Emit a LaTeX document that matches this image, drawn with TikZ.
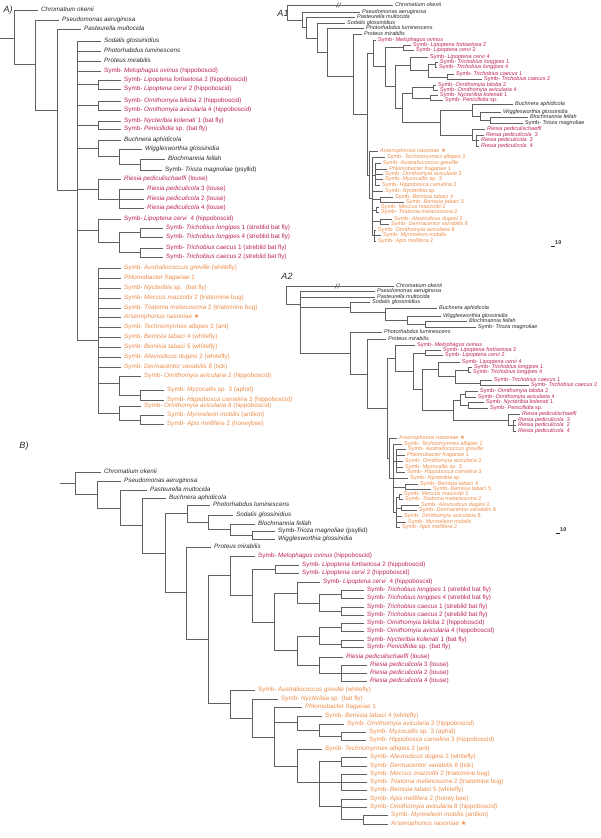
\documentclass[tikz,border=0pt]{standalone}
\usepackage{fontspec}
\setmainfont{Liberation Sans}
\newfontfamily\starfont{DejaVu Sans}
\definecolor{Rd}{RGB}{188,34,86}
\definecolor{Or}{RGB}{236,140,74}
\definecolor{Bk}{RGB}{40,40,40}
\definecolor{Ln}{RGB}{96,96,96}
\def\Sy{Symb-\ }
\def\Astar{ {\starfont ★}}

\begin{document}
\begin{tikzpicture}[x=1pt,y=-1pt,
    br/.style={Ln,line width=0.9pt},
    bs/.style={Ln,line width=0.6pt},
    lf/.style={anchor=west,inner xsep=3pt,inner ysep=0pt,text height=4.6pt,text depth=1.3pt,font=\fontsize{6.3}{7}\selectfont},
    sm/.style={anchor=west,inner xsep=2pt,inner ysep=0pt,text height=3.9pt,text depth=1.1pt,font=\fontsize{5.5}{6}\selectfont},
    ttl/.style={font=\fontsize{9}{10}\selectfont\itshape,text=Bk,inner sep=0pt}]
    \path[use as bounding box] (0,0) rectangle (600,838);
    \node[ttl] (tA) at (8,10) {A)};
    \node[ttl] (tB) at (24,446) {B)};
    \node[ttl] (tA1) at (283,13) {A1};
    \node[ttl] (tA2) at (287,276) {A2};

    % A
    \foreach \n/\x/\y/\t in {a1/38/10/{\textit{Chromatium okenii}},a2/59/20/{\textit{Pseudomonas aeruginosa}},a3/81/29/{\textit{Pasteurella multocida}},
        a4/101/41/{\textit{Sodalis glossinidius}},a5/101/51/{\textit{Photorhabdus luminescens}},a6/101/61/{\textit{Proteus mirabilis}},
        a18/121/140/{\textit{Buchnera aphidicola}},a19/142/149/{\textit{Wigglesworthia glossinidia}},a20/165/159/{\textit{Blochmannia fellah}},
        a21/162/170/{\Sy\textit{Trioza magnoliae} (psyllid)}}
        \node[lf,text=Bk] (\n) at (\x,\y) {\t};
    \foreach \n/\x/\y/\t in {a7/101/71/{\Sy\textit{Melophagus ovinus} (hippoboscid)},a8/121/80/{\Sy\textit{Lipoptena fortisetosa} 2 (hippoboscid)},
        a9/121/89/{\Sy\textit{Lipoptena cervi} 2 (hippoboscid)},a10/121/101/{\Sy\textit{Ornithomyia biloba} 2 (hippoboscid)},
        a11/121/110/{\Sy\textit{Ornithomyia avicularia} 4 (hippoboscid)},a12/121/121/{\Sy\textit{Nycteribia kolenati} 1 (bat fly)},
        a13/121/129/{\Sy\textit{Penicillidia} sp. (bat fly)},a22/121/179/{\textit{Riesia pediculischaeffi} (louse)},
        a23/144/189/{\textit{Riesia pediculicola} 3 (louse)},a24/144/199/{\textit{Riesia pediculicola} 2 (louse)},
        a25/144/208/{\textit{Riesia pediculicola} 4 (louse)},a26/121/219/{\Sy\textit{Lipoptena cervi}\ \ 4 (hippoboscid)},
        a27/163/228/{\Sy\textit{Trichobius longipes} 1 (streblid bat fly)},a28/163/237/{\Sy\textit{Trichobius longipes} 4 (streblid bat fly)},
        a29/163/248/{\Sy\textit{Trichobius caecus} 1 (streblid bat fly)},a30/163/257/{\Sy\textit{Trichobius caecus} 2 (streblid bat fly)}}
        \node[lf,text=Rd] (\n) at (\x,\y) {\t};
    \foreach \n/\x/\y/\t in {a31/121/268/{\Sy\textit{Australiococcus greville} (whitefly)},a32/121/278/{\textit{Phlomobacter fragariae} 1},
        a33/121/288/{\Sy\textit{Nycteribia} sp.\ \ (bat fly)},a34/121/298/{\Sy\textit{Meccus mazzottii} 2 (triatomine bug)},
        a35/121/308/{\Sy\textit{Triatoma melanosoma} 2 (triatomine bug)},a36/121/317/{\textit{Arsenophonus nasoniae}\Astar},
        a37/121/327/{\Sy\textit{Technomyrmex albipes} 2 (ant)},a38/121/337/{\Sy\textit{Bemisia tabaci} 4 (whitefly)},
        a39/121/347/{\Sy\textit{Bemisia tabaci} 5 (whitefly)},a40/121/357/{\Sy\textit{Aleurodicus dugesi} 2 (whitefly)},
        a41/121/367/{\Sy\textit{Dermacentor variabilis} 8 (tick)},a42/141/376/{\Sy\textit{Ornithomyia avicularia} 2 (hippoboscid)},
        a43/164/390/{\Sy\textit{Myzocallis} sp. 3 (aphid)},a44/164/400/{\Sy\textit{Hippobosca camelina} 3 (hippoboscid)},
        a45/141/406/{\Sy\textit{Ornithomyia avicularia} 8 (hippoboscid)},a46/164/415/{\Sy\textit{Myrmeleon mobilis} (antlion)},
        a47/164/424/{\Sy\textit{Apis mellifera} 2 (honeybee)}}
        \node[lf,text=Or] (\n) at (\x,\y) {\t};
    \foreach \n/\x/\y in {aS/0/38,aN0/14/38,aN1/35/64,aN2/57/110,aN3/77/190,aL/98/84,aO/98/105,aNy/98/125,aB/98/148,aW/119/156,aX/140/164,
        aR/98/189,aR2/119/199,aT/98/230,aT2/119/242,aT3/140/232,aT4/140/252,aG/98/340,aG2/119/383,aG4/140/395,aG3/119/413,aG5/140/420}
        \coordinate (\n) at (\x,\y);
    \draw[br] (aS) -- (aN0);
    \foreach \p/\c in {aN0/a1,aN0/aN1,aN1/a2,aN1/aN2,aN2/a3,aN2/aN3,aN3/a4,aN3/a5,aN3/a6,aN3/a7,aN3/aL,aN3/aO,aN3/aNy,aN3/aB,aN3/aR,aN3/aT,aN3/aG,
        aL/a8,aL/a9,aO/a10,aO/a11,aNy/a12,aNy/a13,aB/a18,aB/aW,aW/a19,aW/aX,aX/a20,aX/a21,aR/a22,aR/aR2,aR2/a23,aR2/a24,aR2/a25,
        aT/a26,aT/aT2,aT2/aT3,aT2/aT4,aT3/a27,aT3/a28,aT4/a29,aT4/a30,
        aG/a31,aG/a32,aG/a33,aG/a34,aG/a35,aG/a36,aG/a37,aG/a38,aG/a39,aG/a40,aG/a41,aG/aG2,aG/aG3,
        aG2/a42,aG2/aG4,aG4/a43,aG4/a44,aG3/a45,aG3/aG5,aG5/a46,aG5/a47}
        \draw[br] (\p) |- (\c);

    % B
    \foreach \n/\x/\y/\t in {b1/101/472/{\textit{Chromatium okenii}},b2/121/481/{\textit{Pseudomonas aeruginosa}},b3/147/490/{\textit{Pasteurella multocida}},
        b4/166/498/{\textit{Buchnera aphidicola}},b5/210/505/{\textit{Photorhabdus luminescens}},b6/233/515/{\textit{Sodalis glossinidius}},
        b7/255/524/{\textit{Blochmannia fellah}},b8/275/531/{Symb-\textit{Trioza magnoliae} (psyllid)},b9/275/539/{\textit{Wigglesworthia glossinidia}},
        b10/211/547/{\textit{Proteus mirabilis}}}
        \node[lf,text=Bk] (\n) at (\x,\y) {\t};
    \foreach \n/\x/\y/\t in {b11/255/556/{\Sy\textit{Melophagus ovinus} (hippoboscid)},b12/299/565/{\Sy\textit{Lipoptena fortisetosa} 2 (hippoboscid)},
        b13/299/573/{\Sy\textit{Lipoptena cervi} 2 (hippoboscid)},b14/320/582/{\Sy\textit{Lipoptena cervi}\ \ 4 (hippoboscid)},
        b15/364/590/{\Sy\textit{Trichobius longipes} 1 (streblid bat fly)},b16/364/598/{\Sy\textit{Trichobius longipes} 4 (streblid bat fly)},
        b17/364/607/{\Sy\textit{Trichobius caecus} 1 (streblid bat fly)},b18/364/615/{\Sy\textit{Trichobius caecus} 2 (streblid bat fly)},
        b19/364/623/{\Sy\textit{Ornithomyia biloba} 2 (hippoboscid)},b20/364/631/{\Sy\textit{Ornithomyia avicularia} 4 (hippoboscid)},
        b21/364/640/{\Sy\textit{Nycteribia kolenati} 1 (bat fly)},b22/364/647/{\Sy\textit{Penicillidia} sp. (bat fly)},
        b23/343/657/{\textit{Riesia pediculischaeffi} (louse)},b24/367/665/{\textit{Riesia pediculicola} 3 (louse)},
        b25/367/673/{\textit{Riesia pediculicola} 2 (louse)},b26/367/681/{\textit{Riesia pediculicola} 4 (louse)}}
        \node[lf,text=Rd] (\n) at (\x,\y) {\t};
    \foreach \n/\x/\y/\t in {b27/255/690/{\Sy\textit{Australiococcus greville} (whitefly)},b28/278/699/{\Sy\textit{Nycteribia} sp. (bat fly)},
        b29/302/707/{\textit{Phlomobacter fragariae} 1},b30/322/716/{\Sy\textit{Bemisia tabaci} 4 (whitefly)},
        b31/344/724/{\Sy\textit{Ornithomyia avicularia} 2 (hippoboscid)},b32/366/732/{\Sy\textit{Myzocallis} sp. 3 (aphid)},
        b33/366/740/{\Sy\textit{Hippobosca camelina} 3 (hippoboscid)},b34/322/749/{\Sy\textit{Technomyrmex albipes} 2 (ant)},
        b35/367/757/{\Sy\textit{Aleurodicus dugesi} 2 (whitefly)},b36/367/766/{\Sy\textit{Dermacentor variabilis} 8 (tick)},
        b37/367/774/{\Sy\textit{Meccus mazzottii} 2 (triatomine bug)},b38/367/782/{\Sy\textit{Triatoma melanosoma} 2 (triatomine bug)},
        b39/367/790/{\Sy\textit{Bemisia tabaci} 5 (whitefly)},b40/367/799/{\Sy\textit{Apis mellifera} 2 (honey bee)},
        b41/367/807/{\Sy\textit{Ornithomyia avicularia} 8 (hippoboscid)},b42/388/815/{\Sy\textit{Myrmeleon mobilis} (antlion)},
        b43/388/824/{\textit{Arsenophonus nasoniae}\Astar}}
        \node[lf,text=Or] (\n) at (\x,\y) {\t};
    \foreach \n/\x/\y in {bS/60/483,bN0/75/483,bN1/97/494,bN2/120/508,bN3/142/525,bN4/165/553,bP/187/513,bSo/208/522,bW/230/529,bX/252/535,
        bQ/186/592,bR/208/639,bM/230/575,bM2/252/595,bL/275/569,bM3/274/622,bT/297/593,bT2/319/603,bT3/341/594,bT4/341/611,
        bN/297/650,bO/319/636,bO1/341/627,bO2/341/644,bRi/319/665,bR2/341/673,bG/230/703,bG2/252/718,bG3/274/737,bG4/297/722,
        bG6/319/730,bG7/341/736,bG5/297/766,bG8/319/782,bG9/341/761,bG10/341/782,bG11/341/806,bG12/363/819}
        \coordinate (\n) at (\x,\y);
    \draw[br] (bS) -- (bN0);
    \foreach \p/\c in {bN0/b1,bN0/bN1,bN1/b2,bN1/bN2,bN2/b3,bN2/bN3,bN3/b4,bN3/bN4,bN4/bP,bN4/bQ,bP/b5,bP/bSo,bSo/b6,bSo/bW,bW/b7,bW/bX,bX/b8,bX/b9,
        bQ/b10,bQ/bR,bR/bM,bR/bG,bM/b11,bM/bM2,bM2/bL,bM2/bM3,bL/b12,bL/b13,bM3/bT,bM3/bN,bT/b14,bT/bT2,bT2/bT3,bT2/bT4,
        bT3/b15,bT3/b16,bT4/b17,bT4/b18,bN/bO,bN/bRi,bO/bO1,bO/bO2,bO1/b19,bO1/b20,bO2/b21,bO2/b22,bRi/b23,bRi/bR2,bR2/b24,bR2/b25,bR2/b26,
        bG/b27,bG/bG2,bG2/b28,bG2/bG3,bG3/b29,bG3/bG4,bG3/bG5,bG4/b30,bG4/bG6,bG6/b31,bG6/bG7,bG7/b32,bG7/b33,
        bG5/b34,bG5/bG8,bG8/bG9,bG8/bG10,bG8/bG11,bG9/b35,bG9/b36,bG10/b37,bG10/b38,bG10/b39,bG11/b40,bG11/b41,bG11/bG12,bG12/b42,bG12/b43}
        \draw[br] (\p) |- (\c);

    % A1
    \foreach \n/\x/\y/\t in {c1/393/5/{\textit{Chromatium okenii}},c2/360/12/{\textit{Pseudomonas aeruginosa}},c3/355/17/{\textit{Pasteurella multocida}},
        c4/345/23/{\textit{Sodalis glossinidius}},c5/364/28/{\textit{Photorhabdus luminescens}},c6/362/34/{\textit{Proteus mirabilis}},
        c19/513/104/{\textit{Buchnera aphidicola}},c20/501/112/{\textit{Wigglesworthia glossinidia}},c21/528/117/{\textit{Blochmannia fellah}},
        c22/523/123/{\Sy\textit{Trioza magnoliae}}}
        \node[sm,text=Bk] (\n) at (\x,\y) {\t};
    \foreach \n/\x/\y/\t in {c7/376/40/{\Sy\textit{Melophagus ovinus}},c8/411/45/{\Sy\textit{Lipoptena fortisetosa} 2},c9/414/50/{\Sy\textit{Lipoptena cervi} 2},
        c10/428/57/{\Sy\textit{Lipoptena cervi} 4},c11/438/62/{\Sy\textit{Trichobius longipes} 1},c12/437/67/{\Sy\textit{Trichobius longipes} 4},
        c13/454/74/{\Sy\textit{Trichobius caecus} 1},c14/482/79/{\Sy\textit{Trichobius caecus} 2},c15/436/85/{\Sy\textit{Ornithomyia biloba} 2},
        c16/438/90/{\Sy\textit{Ornithomyia avicularia} 4},c17/438/95/{\Sy\textit{Nycteribia kolenati} 1},c18/443/100/{\Sy\textit{Penicillidia} sp.},
        c23/485/129/{\textit{Riesia pediculischaeffi}},c24/484/135/{\textit{Riesia pediculicola}\ \ 3},c25/479/140/{\textit{Riesia pediculicola}\ \ 2},
        c26/479/146/{\textit{Riesia pediculicola}\ \ 4}}
        \node[sm,text=Rd] (\n) at (\x,\y) {\t};
    \foreach \n/\x/\y/\t in {c27/378/151/{\textit{Arsenophonus nasoniae}\Astar},c28/385/157/{\Sy\textit{Technomyrmex albipes} 2},
        c29/381/163/{\Sy\textit{Australiococcus greville}},c30/387/169/{\textit{Phlomobacter fragariae} 1},c31/383/174/{\Sy\textit{Ornithomyia avicularia} 2},
        c32/383/179/{\Sy\textit{Myzocallis} sp. 3},c33/380/185/{\Sy\textit{Hippobosca camelina} 3},c34/383/191/{\Sy\textit{Nycteribia} sp.},
        c35/393/197/{\Sy\textit{Bemisia tabaci} 4},c36/404/202/{\Sy\textit{Bemisia tabaci} 5},c37/379/207/{\Sy\textit{Meccus mazzottii} 2},
        c38/379/212/{\Sy\textit{Triatoma melanosoma} 2},c39/392/219/{\Sy\textit{Aleurodicus dugesi} 2},c40/389/224/{\Sy\textit{Dermacentor variabilis} 8},
        c41/376/230/{\Sy\textit{Ornithomyia avicularia} 8},c42/381/235/{\Sy\textit{Myrmeleon mobilis}},c43/376/241/{\Sy\textit{Apis mellifera} 2}}
        \node[sm,text=Or] (\n) at (\x,\y) {\t};
    \foreach \n/\x/\y in {cN0/287/12,cN1/302/20,cN2/306/27,cN3/317/38,cN4/327/52,cN5/353/76,cN6/367/114,cRB/373/53,cRB2/385/66,cL1/403/47,
        cRB3/395/86,cT/410/65,cT2/428/70,cTL/435/64,cTC/447/77,cRB4/402/108,cON/412/93,cO/433/87,cNP/430/98,cBR/440/122,cB/472/110,
        cW/480/116,cBT/490/120,cR/472/135,cR2/476/140,cOA/369/175,cO2/372/198,cO3/375/175,cBem/380/199,cMT/376/210,cAD/380/221,cO5/374/235}
        \coordinate (\n) at (\x,\y);
    \foreach \p/\c in {cN0/c1,cN0/cN1,cN1/c2,cN1/cN2,cN2/c3,cN2/cN3,cN3/c4,cN3/cN4,cN4/c5,cN4/cN5,cN5/c6,cN5/cN6,cN6/cRB,cN6/cOA,
        cRB/c7,cRB/cRB2,cRB2/cL1,cRB2/cRB3,cL1/c8,cL1/c9,cRB3/cT,cRB3/cRB4,cT/c10,cT/cT2,cT2/cTL,cT2/cTC,cTL/c11,cTL/c12,cTC/c13,cTC/c14,
        cRB4/cON,cRB4/cBR,cON/cO,cON/cNP,cO/c15,cO/c16,cNP/c17,cNP/c18,cBR/cB,cBR/cR,cB/c19,cB/cW,cW/c20,cW/cBT,cBT/c21,cBT/c22,
        cR/c23,cR/cR2,cR2/c24,cR2/c25,cR2/c26,cOA/c27,cOA/cO2,cO2/c28,cO2/cO3,cO2/c34,cO2/cBem,cO2/cMT,cO2/cAD,cO2/cO5,
        cO3/c29,cO3/c30,cO3/c31,cO3/c32,cO3/c33,cBem/c35,cBem/c36,cMT/c37,cMT/c38,cAD/c39,cAD/c40,cO5/c41,cO5/c42,cO5/c43}
        \draw[bs] (\p) |- (\c);
    \draw[bs] (336,7.5) -- (338.5,2.5) (338.5,7.5) -- (341,2.5);
    \coordinate (sc1) at (551,246);
    \node[sm,inner xsep=0pt,text=Bk,font=\fontsize{5.5}{6}\selectfont\bfseries] (k1) at (555,243) {10};
    \draw[bs,Bk] (sc1) -- (k1.west |- sc1);

    % A2
    \foreach \n/\x/\y/\t in {d1/394/286/{\textit{Chromatium okenii}},d2/375/291/{\textit{Pseudomonas aeruginosa}},d3/375/297/{\textit{Pasteurella multocida}},
        d4/370/302/{\textit{Sodalis glossinidius}},d5/437/308/{\textit{Buchnera aphidicola}},d6/441/316/{\textit{Wigglesworthia glossinidia}},
        d7/467/321/{\textit{Blochmannia fellah}},d8/476/327/{\Sy\textit{Trioza magnoliae}},d9/382/332/{\textit{Photorhabdus luminescens}},
        d10/386/339/{\textit{Proteus mirabilis}}}
        \node[sm,text=Bk] (\n) at (\x,\y) {\t};
    \foreach \n/\x/\y/\t in {d11/415/345/{\Sy\textit{Melophagus ovinus}},d12/441/350/{\Sy\textit{Lipoptena fortisetosa} 2},d13/443/355/{\Sy\textit{Lipoptena cervi} 2},
        d14/460/362/{\Sy\textit{Lipoptena cervi} 4},d15/472/367/{\Sy\textit{Trichobius longipes} 1},d16/471/372/{\Sy\textit{Trichobius longipes} 4},
        d17/492/380/{\Sy\textit{Trichobius caecus} 1},d18/529/385/{\Sy\textit{Trichobius caecus} 2},d19/478/391/{\Sy\textit{Ornithomyia biloba} 2},
        d20/476/397/{\Sy\textit{Ornithomyia avicularia} 4},d21/484/402/{\Sy\textit{Nycteribia kolenati} 1},d22/488/408/{\Sy\textit{Penicillidia} sp.},
        d23/520/414/{\textit{Riesia pediculischaeffi}},d24/516/420/{\textit{Riesia pediculicola}\ \ 3},d25/516/425/{\textit{Riesia pediculicola}\ \ 2},
        d26/516/431/{\textit{Riesia pediculicola}\ \ 4}}
        \node[sm,text=Rd] (\n) at (\x,\y) {\t};
    \foreach \n/\x/\y/\t in {d27/397/438/{\textit{Arsenophonus nasoniae}\Astar},d28/402/444/{\Sy\textit{Technomyrmex albipes} 2},
        d29/406/449/{\Sy\textit{Australiococcus greville}},d30/405/455/{\textit{Phlomobacter fragariae} 1},d31/403/461/{\Sy\textit{Ornithomyia avicularia} 2},
        d32/403/467/{\Sy\textit{Myzocallis} sp. 3},d33/405/472/{\Sy\textit{Hippobosca camelina} 3},d34/408/478/{\Sy\textit{Nycteribia} sp.},
        d35/418/484/{\Sy\textit{Bemisia tabaci} 4},d36/431/489/{\Sy\textit{Bemisia tabaci} 5},d37/402/494/{\Sy\textit{Meccus mazzottii} 2},
        d38/403/499/{\Sy\textit{Triatoma melanosoma} 2},d39/419/505/{\Sy\textit{Aleurodicus dugesi} 2},d40/417/510/{\Sy\textit{Dermacentor variabilis} 8},
        d41/402/516/{\Sy\textit{Ornithomyia avicularia} 8},d42/406/522/{\Sy\textit{Myrmeleon mobilis}},d43/400/527/{\Sy\textit{Apis mellifera} 2}}
        \node[sm,text=Or] (\n) at (\x,\y) {\t};
    \foreach \n/\x/\y in {dN0/286/295,dN1/300/304,dS/350/307,dB/385/312,dW/407/320,dX/425/324,dP/350/353,dM/367/374,dR/387/408,
        dD/395/358,dD2/413/371,dL/425/353,dD3/422/389,dT/438/369,dT2/455/376,dTL/468/370,dTC/480/383,dN/453/410,dON/460/400,
        dO1/465/394,dO2/468/405,dRi/508/420,dR2/513/425,dO/389/458,dO2a/393/478,dO3/396/461,dBem/405/487,dO5/396/512,dMT/399/497,dAD/401/508}
        \coordinate (\n) at (\x,\y);
    \foreach \p/\c in {dN0/d1,dN0/dN1,dN1/d2,dN1/d3,dN1/dS,dN1/dP,dS/d4,dS/dB,dB/d5,dB/dW,dW/d6,dW/dX,dX/d7,dX/d8,dP/d9,dP/dM,dM/d10,dM/dR,
        dR/dD,dR/dO,dD/d11,dD/dD2,dD2/dL,dD2/dD3,dL/d12,dL/d13,dD3/dT,dD3/dN,dT/d14,dT/dT2,dT2/dTL,dT2/dTC,dTL/d15,dTL/d16,dTC/d17,dTC/d18,
        dN/dON,dN/dRi,dON/dO1,dON/dO2,dO1/d19,dO1/d20,dO2/d21,dO2/d22,dRi/d23,dRi/dR2,dR2/d24,dR2/d25,dR2/d26,
        dO/d27,dO/dO2a,dO2a/d28,dO2a/dO3,dO2a/d34,dO2a/dBem,dO2a/dO5,dO3/d29,dO3/d30,dO3/d31,dO3/d32,dO3/d33,dBem/d35,dBem/d36,
        dO5/dMT,dO5/dAD,dO5/d41,dO5/d42,dO5/d43,dMT/d37,dMT/d38,dAD/d39,dAD/d40}
        \draw[bs] (\p) |- (\c);
    \draw[bs] (335,288.5) -- (337.5,283.5) (337.5,288.5) -- (340,283.5);
    \coordinate (sc2) at (556,533);
    \node[sm,inner xsep=0pt,text=Bk,font=\fontsize{5.5}{6}\selectfont\bfseries] (k2) at (560,530) {10};
    \draw[bs,Bk] (sc2) -- (k2.west |- sc2);
\end{tikzpicture}
\end{document}
